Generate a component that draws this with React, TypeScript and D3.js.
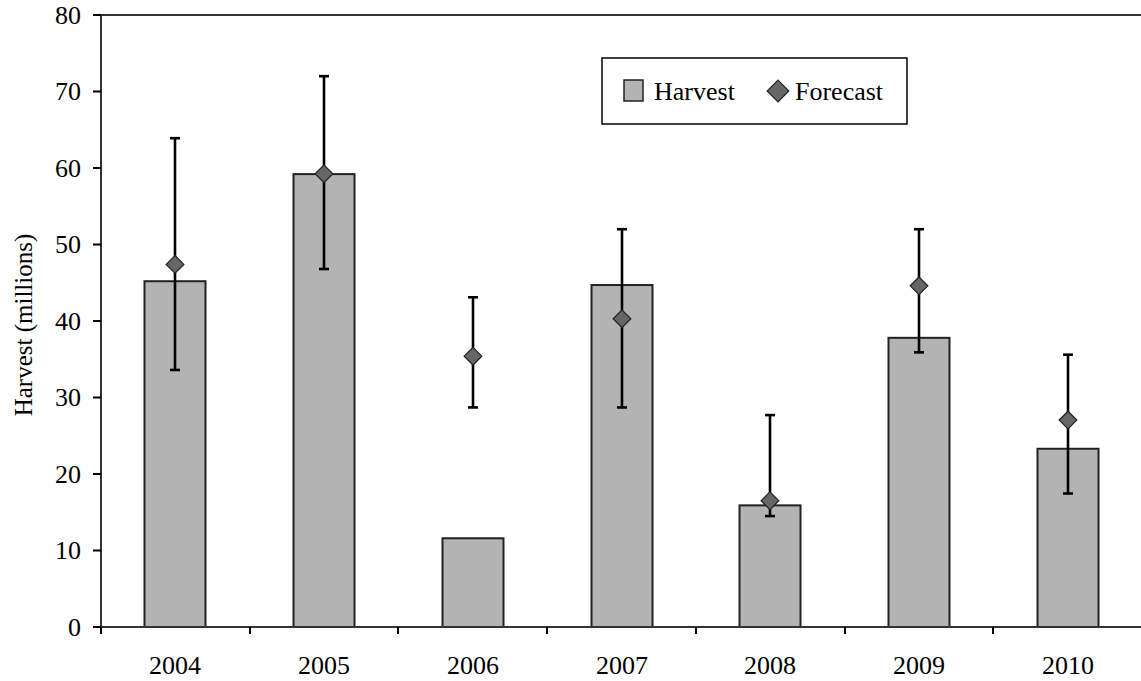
import React from "react";
import * as d3 from "d3";

const years = ["2004", "2005", "2006", "2007", "2008", "2009", "2010"];
const harvest = [45.2, 59.2, 11.6, 44.7, 15.9, 37.8, 23.3];
const forecast = [47.4, 59.25, 35.4, 40.3, 16.5, 44.6, 27.05];
const forecastLow = [33.6, 46.8, 28.7, 28.7, 14.5, 35.9, 17.45];
const forecastHigh = [63.9, 72.0, 43.1, 52.0, 27.7, 52.0, 35.6];
const yTicks = [0, 10, 20, 30, 40, 50, 60, 70, 80];

const W = 1141;
const H = 681;
const left = 101;
const right = 1142;
const top = 15;
const bottom = 627;
const font = "'Liberation Serif', 'Times New Roman', Times, serif";

export default function App() {
  const x = d3.scaleBand<string>().domain(years).range([left, right]).paddingInner(0).paddingOuter(0);
  const y = d3.scaleLinear().domain([0, 80]).range([bottom, top]);
  const bw = 61;
  const diamond = d3.symbol().type(d3.symbolDiamond2).size(200)();
  const cap = 5;
  const center = (yr: string) => Math.round((x(yr) as number) + x.bandwidth() / 2);

  return (
    <svg width={W} height={H} style={{ position: "absolute", left: 0, top: 0, background: "#fff" }}>
      {years.map((yr, i) => {
        const cx = center(yr);
        return (
          <rect
            key={"b" + yr}
            x={cx - bw / 2}
            y={y(harvest[i])}
            width={bw}
            height={y(0) - y(harvest[i])}
            fill="#b3b3b3"
            stroke="#222"
            strokeWidth={2}
          />
        );
      })}
      {years.map((yr, i) => {
        const cx = center(yr);
        return (
          <g key={"e" + yr} stroke="#000" strokeWidth={2.6}>
            <line x1={cx} x2={cx} y1={y(forecastLow[i])} y2={y(forecastHigh[i])} />
            <line x1={cx - cap} x2={cx + cap} y1={y(forecastLow[i])} y2={y(forecastLow[i])} />
            <line x1={cx - cap} x2={cx + cap} y1={y(forecastHigh[i])} y2={y(forecastHigh[i])} />
          </g>
        );
      })}
      {years.map((yr, i) => {
        const cx = center(yr);
        return (
          <path
            key={"d" + yr}
            d={diamond as string}
            transform={`translate(${cx},${y(forecast[i])})`}
            fill="#666"
            stroke="#222"
            strokeWidth={1.2}
          />
        );
      })}
      <line x1={left} x2={left} y1={top} y2={bottom} stroke="#333" strokeWidth={2} />
      <line x1={left} x2={right} y1={bottom} y2={bottom} stroke="#333" strokeWidth={2} />
      <line x1={left} x2={right} y1={top} y2={top} stroke="#333" strokeWidth={2} />
      {yTicks.map((t) => (
        <g key={"yt" + t}>
          <line x1={left - 8} x2={left} y1={y(t)} y2={y(t)} stroke="#000" strokeWidth={2} />
          <text
            x={81}
            y={y(t)}
            textAnchor="end"
            dominantBaseline="central"
            style={{ fontFamily: font, fontSize: 26 }}
            fill="#000"
          >
            {t}
          </text>
        </g>
      ))}
      {years.map((yr) => (
        <line
          key={"xt" + yr}
          x1={Math.round(x(yr) as number)}
          x2={Math.round(x(yr) as number)}
          y1={bottom}
          y2={bottom + 7}
          stroke="#000"
          strokeWidth={2}
        />
      ))}
      {years.map((yr) => (
        <text
          key={"xl" + yr}
          x={center(yr)}
          y={665}
          textAnchor="middle"
          dominantBaseline="central"
          style={{ fontFamily: font, fontSize: 26 }}
          fill="#000"
        >
          {yr}
        </text>
      ))}
      <text
        transform={`translate(23,325) rotate(-90)`}
        textAnchor="middle"
        dominantBaseline="central"
        style={{ fontFamily: font, fontSize: 25 }}
        fill="#000"
      >
        Harvest (millions)
      </text>
      <g>
        <rect x={602} y={58} width={305} height={66} fill="#fff" stroke="#000" strokeWidth={1.5} />
        <rect x={624} y={80} width={19} height={21} fill="#b3b3b3" stroke="#222" strokeWidth={1.5} />
        <text x={654} y={91} dominantBaseline="central" style={{ fontFamily: font, fontSize: 26 }} fill="#000">
          Harvest
        </text>
        <path
          d={d3.symbol().type(d3.symbolDiamond2).size(300)() as string}
          transform="translate(778,91)"
          fill="#666"
          stroke="#222"
          strokeWidth={1.2}
        />
        <text x={795} y={91} dominantBaseline="central" style={{ fontFamily: font, fontSize: 26 }} fill="#000">
          Forecast
        </text>
      </g>
    </svg>
  );
}
